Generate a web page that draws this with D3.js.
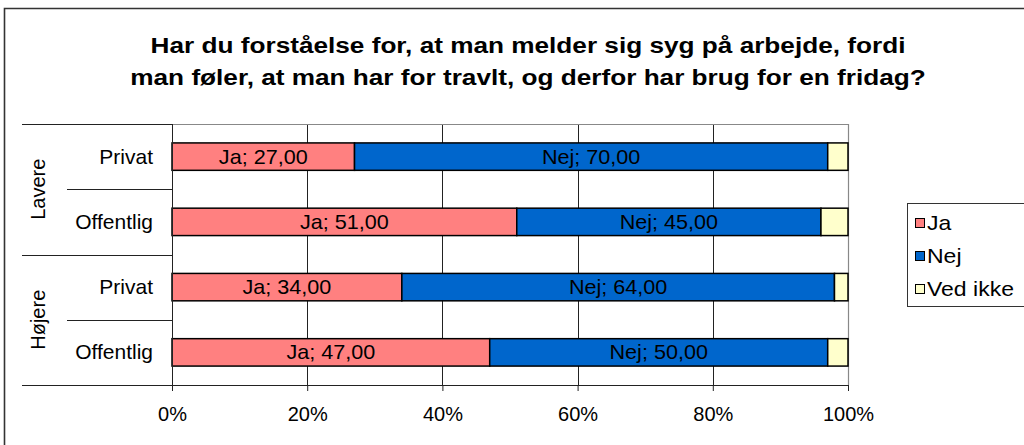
<!DOCTYPE html>
<html>
<head>
<meta charset="utf-8">
<script src="https://cdn.jsdelivr.net/npm/d3@7"></script>
<style>
  body { margin: 0; background: #fff; }
  svg { display: block; font-family: "Liberation Sans", Arial, sans-serif; }
</style>
</head>
<body>
<script>
// data
var titleLines = ["Har du forståelse for, at man melder sig syg på arbejde, fordi",
                  "man føler, at man har for travlt, og derfor har brug for en fridag?"];
var groups = ["Lavere", "Lavere", "Højere", "Højere"];
var sectors = ["Privat", "Offentlig", "Privat", "Offentlig"];
var ja = [27, 51, 34, 47];
var nej = [70, 45, 64, 50];
var vedIkke = [3, 4, 2, 3];
var seriesNames = ["Ja", "Nej", "Ved ikke"];
var seriesColors = ["#FF8080", "#0066CC", "#FFFFCC"];
var xTicks = [0, 20, 40, 60, 80, 100];

var w = 1024, h = 445;
var pLeft = 172, pRight = 848, pTop = 124, pBottom = 385;

var svg = d3.select("body").append("svg")
  .attr("width", w).attr("height", h);

// outer frame
svg.append("path")
  .attr("d", "M4.5,445 V8.5 H1030")
  .attr("fill", "none").attr("stroke", "#333").attr("stroke-width", 1.6);

// title (chart text is a bit wide in the original)
svg.append("g")
  .attr("transform", "translate(528,0) scale(1.19,1)")
  .selectAll("text")
  .data(titleLines).enter().append("text")
  .attr("x", 0).attr("y", function(d, i) { return 53 + i * 32; })
  .attr("text-anchor", "middle")
  .attr("font-weight", "bold").attr("font-size", "22px")
  .text(function(d) { return d; });

var rows = d3.range(groups.length).map(function(i) {
  return { key: i, group: groups[i], sector: sectors[i], Ja: ja[i], Nej: nej[i], "Ved ikke": vedIkke[i] };
});

var xScale = d3.scaleLinear().domain([0, 100]).range([pLeft, pRight]);
var yScale = d3.scaleBand().domain(d3.range(rows.length)).range([pTop, pBottom]);
var barH = yScale.bandwidth() * 0.42;

// gridlines
svg.append("g").selectAll("line")
  .data(xTicks.slice(1, -1)).enter().append("line")
  .attr("x1", function(d) { return Math.round(xScale(d)) + 0.5; })
  .attr("x2", function(d) { return Math.round(xScale(d)) + 0.5; })
  .attr("y1", pTop).attr("y2", pBottom)
  .attr("stroke", "#222").attr("stroke-width", 1);

// plot border top/right
svg.append("path")
  .attr("d", "M" + pLeft + "," + (pTop + 0.5) + " H" + (pRight + 0.5) + " V" + pBottom)
  .attr("fill", "none").attr("stroke", "#888").attr("stroke-width", 1.2);

var stack = d3.stack().keys(seriesNames);
var layers = stack(rows);

var bars = svg.append("g").selectAll("g")
  .data(layers).enter().append("g")
  .attr("fill", function(d, i) { return seriesColors[i]; });

bars.selectAll("rect")
  .data(function(d) { return d; }).enter().append("rect")
  .attr("x", function(d) { return xScale(d[0]); })
  .attr("width", function(d) { return xScale(d[1]) - xScale(d[0]); })
  .attr("y", function(d) { return yScale(d.data.key) + (yScale.bandwidth() - barH) / 2; })
  .attr("height", barH)
  .attr("stroke", "#000").attr("stroke-width", 1.5);

// value labels (Ja, Nej)
layers.slice(0, 2).forEach(function(layer) {
  svg.append("g").selectAll("text")
    .data(layer).enter().append("text")
    .attr("transform", function(d) {
      return "translate(" + (xScale(d[0]) + xScale(d[1])) / 2 + "," +
        (yScale(d.data.key) + yScale.bandwidth() / 2 + 7) + ") scale(1.08,1)";
    })
    .attr("text-anchor", "middle").attr("font-size", "20px")
    .text(function(d) { return layer.key + "; " + (d[1] - d[0]).toFixed(2).replace(".", ","); });
});

// x axis
var xAxis = d3.axisBottom(xScale).tickValues(xTicks)
  .tickFormat(function(d) { return d + "%"; }).tickSize(6).tickPadding(16);
var gx = svg.append("g").attr("transform", "translate(0," + pBottom + ")").call(xAxis);
gx.select(".domain").attr("stroke", "#222").attr("d", "M" + pLeft + ",0.5H" + pRight);
gx.selectAll(".tick line").attr("stroke", "#222");
gx.selectAll("text").attr("font-size", "20px").attr("fill", "#000")
  .attr("font-family", "Liberation Sans, Arial, sans-serif");

// category axis
svg.append("line")
  .attr("x1", pLeft + 0.5).attr("x2", pLeft + 0.5).attr("y1", pTop).attr("y2", pBottom + 6)
  .attr("stroke", "#222");

svg.append("g").selectAll("text")
  .data(rows).enter().append("text")
  .attr("transform", function(d) {
    return "translate(153," + (yScale(d.key) + yScale.bandwidth() / 2 + 7) + ") scale(1.05,1)";
  })
  .attr("text-anchor", "end").attr("font-size", "20px")
  .text(function(d) { return d.sector; });

// separators between categories
var bounds = d3.range(rows.length + 1);
svg.append("g").selectAll("line")
  .data(bounds).enter().append("line")
  .attr("x1", function(d) { return d % 2 === 0 ? 22 : 67; })
  .attr("x2", pLeft)
  .attr("y1", function(d) { return Math.round(pTop + d * yScale.step()) + 0.5; })
  .attr("y2", function(d) { return Math.round(pTop + d * yScale.step()) + 0.5; })
  .attr("stroke", "#222");

// group labels
var groupNames = [];
groups.forEach(function(g) { if (groupNames.indexOf(g) < 0) groupNames.push(g); });
svg.append("g").selectAll("text")
  .data(groupNames).enter().append("text")
  .attr("transform", function(g) {
    var idx = groups.map(function(v, i) { return v === g ? i : -1; }).filter(function(i) { return i >= 0; });
    var cy = (yScale(idx[0]) + yScale(idx[idx.length - 1]) + yScale.bandwidth()) / 2;
    return "translate(45," + cy + ") rotate(-90)";
  })
  .attr("text-anchor", "middle").attr("font-size", "20px")
  .text(function(d) { return d; });

// legend
var lg = svg.append("g");
lg.append("rect").attr("x", 907.5).attr("y", 203.5).attr("width", 130).attr("height", 103)
  .attr("fill", "#fff").attr("stroke", "#333");
var items = lg.selectAll("g.item").data(seriesNames).enter().append("g")
  .attr("transform", function(d, i) { return "translate(0," + (223 + i * 33) + ")"; });
items.append("rect").attr("x", 915.5).attr("y", -4.5).attr("width", 9).attr("height", 9)
  .attr("fill", function(d, i) { return seriesColors[i]; })
  .attr("stroke", "#000").attr("stroke-width", 1);
items.append("text")
  .attr("transform", "translate(927,7) scale(1.15,1)")
  .attr("font-size", "20px")
  .text(function(d) { return d; });
</script>
</body>
</html>
